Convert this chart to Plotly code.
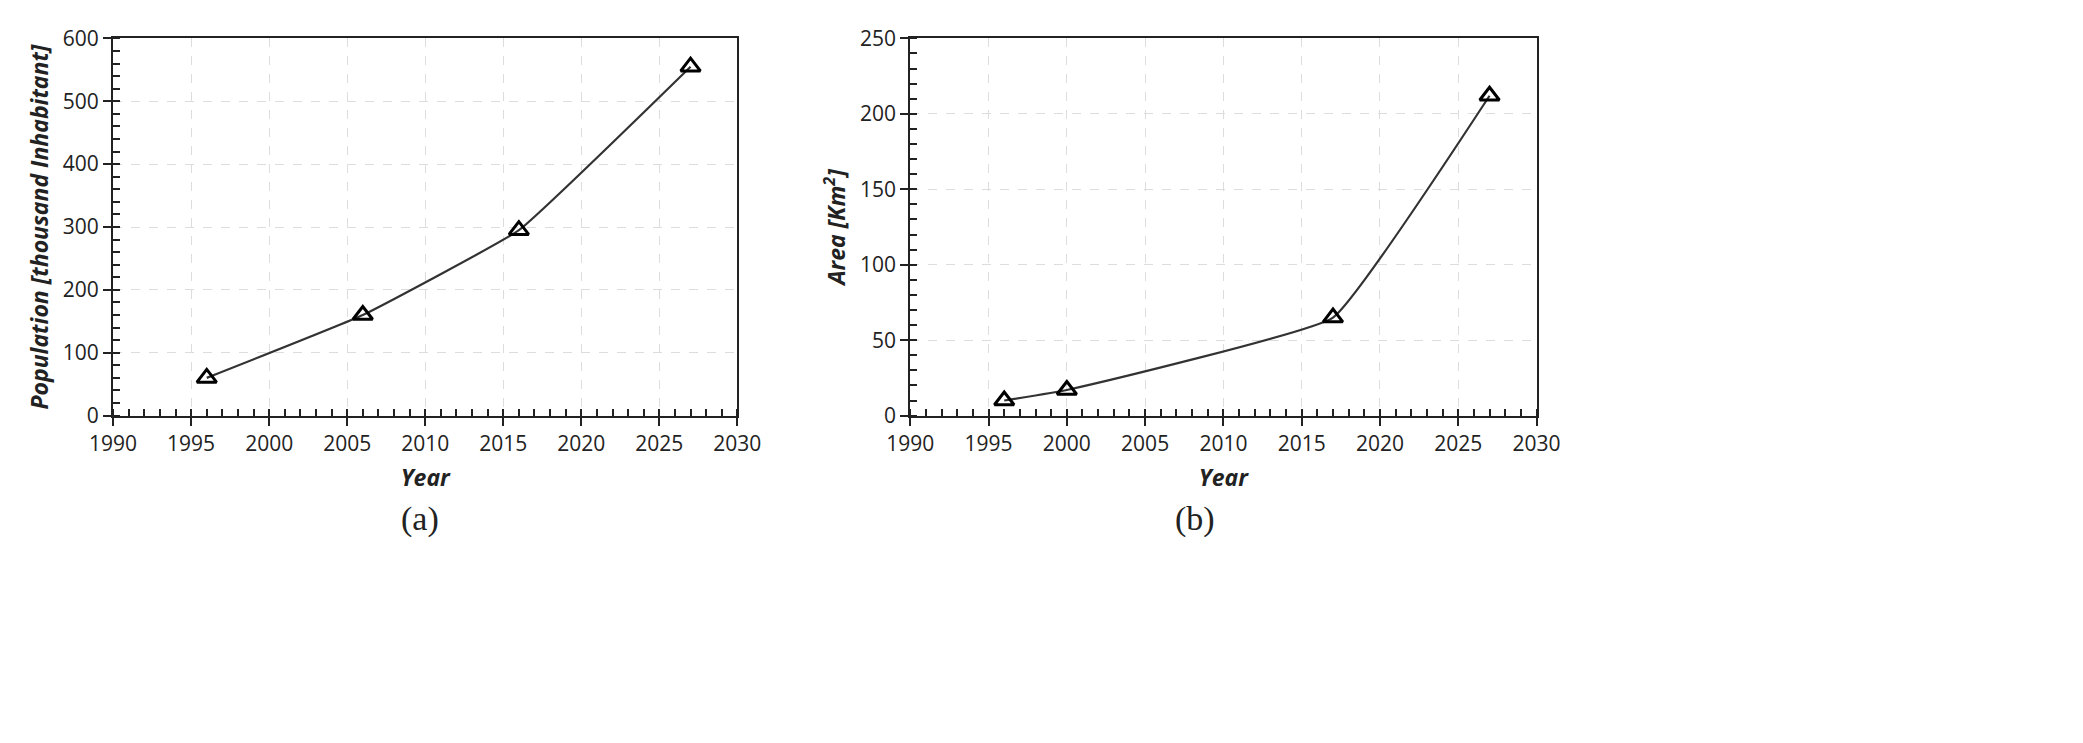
import plotly.graph_objects as go

# panel (a): population
pop_year = [1996, 2006, 2016, 2027]
pop_value = [60, 160, 295, 555]

# panel (b): urban area
area_year = [1996, 2000, 2017, 2027]
area_value = [10, 17, 65, 212]

W, H = 2083, 743
fig = go.Figure()

mk = dict(symbol="triangle-up-open", size=17, color="black", line=dict(width=3, color="black"))
ln = dict(color="#333333", width=2.2, shape="spline", smoothing=0.3)
fig.add_trace(go.Scatter(x=pop_year, y=pop_value, mode="lines+markers", marker=mk, line=ln, xaxis="x", yaxis="y"))
fig.add_trace(go.Scatter(x=area_year, y=area_value, mode="lines+markers", marker=mk, line=ln, xaxis="x2", yaxis="y2"))

font = dict(family="Open Sans", size=21, color="#222")
title_font = dict(family="Open Sans", size=23, color="#222")

def xax(dom, anchor):
    return dict(domain=dom, anchor=anchor, range=[1990, 2030], dtick=5, showline=True, mirror=True,
                linecolor="#222", linewidth=2, ticks="outside", ticklen=8, tickwidth=2, tickcolor="#222",
                minor=dict(dtick=1, ticks="inside", ticklen=7, tickwidth=1.5, tickcolor="#222", showgrid=False),
                showgrid=True, gridcolor="#dddddd", griddash="dash", gridwidth=1, zeroline=False,
                tickfont=font, title=dict(text="<b><i>Year</i></b>", font=title_font, standoff=14))

def yax(dom, anchor, rng, dt, mdt, title):
    return dict(domain=dom, anchor=anchor, range=rng, dtick=dt, showline=True, mirror=True,
                linecolor="#222", linewidth=2, ticks="outside", ticklen=8, tickwidth=2, tickcolor="#222",
                minor=dict(dtick=mdt, ticks="inside", ticklen=7, tickwidth=1.5, tickcolor="#222", showgrid=False),
                showgrid=True, gridcolor="#dddddd", griddash="dash", gridwidth=1, zeroline=False,
                tickfont=font, title=dict(text=title, font=title_font, standoff=8))

ydom = [1 - 408 / H, 1 - 16 / H]
fig.update_layout(
    width=W, height=H, margin=dict(l=0, r=0, t=0, b=0),
    paper_bgcolor="white", plot_bgcolor="white", showlegend=False,
    xaxis=xax([83 / W, 722 / W], "y"),
    yaxis=yax(ydom, "x", [0, 600], 100, 20, "<b><i>Population [thousand Inhabitant]</i></b>"),
    xaxis2=xax([899 / W, 1540 / W], "y2"),
    yaxis2=yax(ydom, "x2", [0, 250], 50, 10, "<b><i>Area [Km<sup>2</sup>]</i></b>"),
)

for txt, xp in [("(a)", 376), ("(b)", 1190)]:
    fig.add_annotation(text=txt, x=xp / W, y=1 - 537 / H, xref="paper", yref="paper",
                       showarrow=False, font=dict(family="Liberation Serif", size=34, color="#222"))

fig.write_html("out.html")
